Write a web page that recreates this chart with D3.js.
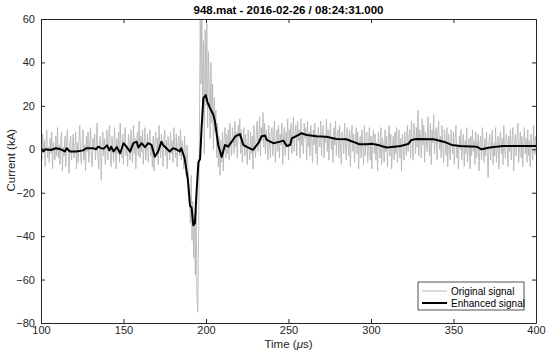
<!DOCTYPE html>
<html>
<head>
<meta charset="utf-8">
<script src="https://cdn.jsdelivr.net/npm/d3@7"></script>
<style>
  body { margin: 0; background: #fff; }
  text { font-family: 'Liberation Sans', Arial, sans-serif; }
</style>
</head>
<body>
<div id="chart"></div>
<script>
'use strict';

// Original signal, one sample every 0.5 us from 100 to 400 us (kA), 10 samples per row
var originalStart = 100
var originalStep = 0.5
var originalValues = [
  2, -5, 7, -1, 4, -8, 3, 9, -4, 1,
  -6, 5, -2, 8, -9, 3, 0, -5, 6, -3,
  10, -4, 2, -7, 5, 8, -10, 1, -3, 6,
  -8, 4, 9, -2, -11, 3, 6, -5, 1, 7,
  -4, 0, 8, -9, 3, -6, 5, 11, -3, -7,
  4, 9, -5, 2, -10, 6, -1, 8, -6, 3,
  10, -3, -8, 5, 1, 7, -5, 2, 12, -4,
  -9, 3, 6, -14, 1, 8, -3, 5, -7, 2,
  9, -5, 4, 11, -2, -8, 6, 1, -6, 10,
  3, -9, 5, -2, 8, -6, 12, 0, -4, 7,
  -7, 5, 10, -3, 2, -8, 7, 4, -5, 9,
  1, -6, 11, -2, 5, -9, 4, 8, -3, 13,
  -4, 6, -1, 9, -7, 3, 10, -5, 2, 7,
  -6, 4, 9, -3, 1, -8, 6, -10, 3, 8,
  -2, 5, -7, 11, 2, -4, 7, 0, -8, 5,
  9, -3, 4, -9, 6, 1, -5, 8, -2, 4,
  -6, 10, 2, -4, 7, -8, 3, 6, -3, 9,
  -5, 4, 1, -9, 6, -3, -12, 2, -7, -16,
  -20, -34, -12, -42, -24, -50, -30, -58, -22, -68,
  -75, -40, 5, 62, 30, 68, 12, 50, -2, 55,
  20, 58, 10, 45, 28, 5, 40, 12, 30, 0,
  24, 8, 18, -4, 12, -8, 6, -12, 4, -6,
  8, -10, 5, 10, -4, 7, -2, 9, -5, 12,
  3, -3, 10, 6, -2, 13, 1, 8, -4, 11,
  5, 14, -2, 9, -6, 4, 10, -3, 7, 0,
  -7, 9, 3, -5, 8, -2, 6, -9, 11, 2,
  -4, 8, 13, -1, 6, 15, -3, 10, 4, 17,
  1, 12, -2, 9, 5, -5, 11, 3, -4, 8,
  10, -3, 6, 13, -6, 4, 9, -1, 11, -4,
  7, 2, 12, -7, 5, 10, -3, 8, 1, 14,
  -5, 9, 3, 12, -2, 6, 15, -1, 8, 11,
  -3, 13, 4, 9, -4, 14, 2, 7, -2, 12,
  5, 10, -5, 13, 1, 8, -3, 11, 6, -6,
  9, 2, 12, -2, 7, -7, 10, 4, 1, 13,
  -3, 8, 11, -4, 6, 3, 14, -1, 9, -5,
  7, 12, 0, 5, -6, 10, 2, 13, -3, 6,
  9, -4, 11, 1, -7, 8, 4, -2, 12, 3,
  -5, 10, 6, -3, 9, -8, 5, 11, -1, 7,
  -6, 4, 10, -2, 8, -9, 3, 6, -4, 9,
  1, -7, 11, -3, 5, 8, -6, 2, 10, -5,
  6, -9, 4, 9, -2, 7, -5, 3, -10, 8,
  0, -4, 10, -7, 5, 2, -6, 9, -1, 6,
  -8, 4, 11, -3, 7, -9, 2, 6, -5, 8,
  -2, 10, -6, 3, 9, -4, 5, -10, 7, 1,
  -5, 8, 2, -3, 11, -1, 6, 9, -4, 13,
  3, -5, 12, 7, -2, 10, 1, 18, -3, 9,
  6, -4, 14, 2, 11, -6, 8, 4, -1, 15,
  5, -3, 12, -7, 9, 3, 16, -2, 7, 10,
  -5, 8, 13, 0, 6, -4, 11, 2, -6, 9,
  4, -3, 10, -8, 7, 1, -5, 9, 3, -2,
  8, -7, 5, 11, -4, 2, -9, 6, 0, 9,
  -5, 3, 7, -8, 4, -2, 10, -6, 2, 5,
  -9, 6, -3, 9, -1, 4, -7, 8, -4, 2,
  7, -10, 3, 6, -5, 10, 0, -6, 5, -3,
  8, -2, -13, 4, 7, -5, 2, 9, -7, 3,
  -3, 10, -6, 1, 6, -9, 4, 8, -2, 5,
  -7, 11, 0, -4, 7, 3, -8, 6, -1, 9,
  -5, 4, 10, -10, 2, 7, -3, 5, 12, -6,
  1, 8, -4, 6, -8, 3, 10, -2, 5, -6,
  9, -3, 4, -8, 7, 0, -5, 11, -2, 6,
  -3
]

// Enhanced signal (time in us, current in kA)
var enhancedTime = [
  100, 101.5, 102.5, 106, 109, 112, 114.5, 115.5, 117.5, 121.5,
  125.5, 127.5, 131.5, 133.5, 134.5, 136.5, 138, 140, 141.5, 142.5,
  144, 146, 148, 150, 152, 154, 156, 158, 159, 161,
  163, 165, 167, 169, 171, 173, 174, 176, 178, 180,
  182, 184, 185, 187, 189, 190.3, 191.3, 192.3, 193.3, 194.4,
  195.4, 196.4, 197.4, 198.4, 199.8, 200.8, 202.4, 204.4, 205.4, 207.4,
  209.5, 211.5, 213.5, 215.6, 217.6, 219.6, 220.6, 222.6, 225, 228.5,
  231.7, 233.7, 235.8, 236.8, 240.8, 243.8, 246.9, 248.9, 251, 252,
  257, 258, 261, 267, 273, 279, 285, 289, 293, 297,
  301, 305.5, 309.5, 315.5, 318, 322.5, 324.5, 327.5, 338, 344,
  349, 354, 364, 367, 372, 380, 392, 400
]
var enhancedValue = [
  0.5, -1, 0, -0.3, 0.5, 0, -1, 0.5, -1, -1,
  -0.5, 0.5, 0.5, 0, 1.2, 0.5, 0.3, 1.8, -0.5, 1.2,
  -1, 1, -1.8, 2.8, 1, -1.1, 2.8, 3.5, 0.8, 2.8,
  1, 2.8, 2, -3.4, -1, 3.5, 2, 0.5, -1, 0.5,
  0, -1, 0.5, -4, -14, -26, -27, -35, -34, -18,
  -6, -4.5, 11, 23.5, 25, 22, 19, 16, 13, 2,
  -3.5, 2, 1.2, 3.5, 5.8, 6.6, 7, 2, 1, -0.3,
  2.8, 6, 6.3, 4.3, 2.8, 3.3, 4, 1.5, 2, 5,
  7, 7.4, 6.6, 6, 5.8, 4.7, 4.6, 3.5, 2.3, 2.3,
  2.5, 1.7, 0.8, 1.3, 1.5, 2.4, 4.3, 4.7, 4.6, 3.5,
  2, 1.5, 1.2, 0, 0.8, 1.5, 1.5, 1.5
]

// Axis ticks
var xTicks = [100, 150, 200, 250, 300, 350, 400]
var yTicks = [-80, -60, -40, -20, 0, 20, 40, 60]

var settings = {}
settings.axis_color = '#262626'
settings.original_color = '#b8b8b8'
settings.enhanced_color = '#000'
settings.tick_size = 4
settings.font_size = '11px'

var totalWidth = 550,
    totalHeight = 360
var margin = {top: 19, right: 14, bottom: 37, left: 41},
    width = totalWidth - margin.left - margin.right,
    height = totalHeight - margin.top - margin.bottom

var x = d3.scaleLinear().domain([100, 400]).range([0, width])
var y = d3.scaleLinear().domain([-80, 60]).range([height, 0])

var svg = d3.select('#chart').append('svg')
    .attr('width', totalWidth)
    .attr('height', totalHeight)

var g = svg.append('g')
    .attr('transform', 'translate(' + margin.left + ',' + margin.top + ')')

g.append('clipPath').attr('id', 'plot-clip')
  .append('rect')
    .attr('width', width)
    .attr('height', height)

var original = originalValues.map(function(v, i) { return [originalStart + i * originalStep, v] })
var enhanced = enhancedTime.map(function(t, i) { return [t, enhancedValue[i]] })

var line = d3.line()
    .x(function(d) { return x(d[0]) })
    .y(function(d) { return y(d[1]) })

var plot = g.append('g').attr('clip-path', 'url(#plot-clip)')

plot.append('path')
    .datum(original)
    .attr('d', line)
    .attr('fill', 'none')
    .attr('stroke', settings.original_color)
    .attr('stroke-width', 0.9)

plot.append('path')
    .datum(enhanced)
    .attr('d', line)
    .attr('fill', 'none')
    .attr('stroke', settings.enhanced_color)
    .attr('stroke-width', 2)
    .attr('stroke-linejoin', 'round')

// Axes, ticks pointing inward on all four sides (box)
function styleAxis(sel, showLabels) {
  sel.select('.domain').attr('stroke', settings.axis_color)
  sel.selectAll('.tick line').attr('stroke', settings.axis_color)
  sel.selectAll('.tick text')
      .attr('fill', settings.axis_color)
      .attr('font-size', settings.font_size)
      .style('display', showLabels ? null : 'none')
}

g.append('g')
    .attr('transform', 'translate(0,' + height + ')')
    .call(d3.axisBottom(x).tickValues(xTicks).tickSizeInner(-settings.tick_size).tickSizeOuter(0).tickPadding(3))
    .call(styleAxis, true)

g.append('g')
    .call(d3.axisTop(x).tickValues(xTicks).tickSizeInner(-settings.tick_size).tickSizeOuter(0))
    .call(styleAxis, false)

g.append('g')
    .call(d3.axisLeft(y).tickValues(yTicks).tickSizeInner(-settings.tick_size).tickSizeOuter(0).tickPadding(6))
    .call(styleAxis, true)

g.append('g')
    .attr('transform', 'translate(' + width + ',0)')
    .call(d3.axisRight(y).tickValues(yTicks).tickSizeInner(-settings.tick_size).tickSizeOuter(0))
    .call(styleAxis, false)

// Title and axis labels
svg.append('text')
    .attr('x', margin.left + width / 2)
    .attr('y', 14)
    .attr('text-anchor', 'middle')
    .attr('font-size', '11.5px')
    .attr('font-weight', 'bold')
    .attr('fill', '#000')
    .text('948.mat - 2016-02-26 / 08:24:31.000')

var xLabel = svg.append('text')
    .attr('x', margin.left + width / 2)
    .attr('y', 348)
    .attr('text-anchor', 'middle')
    .attr('font-size', '11.5px')
    .attr('fill', settings.axis_color)
xLabel.append('tspan').text('Time (')
xLabel.append('tspan').attr('font-style', 'italic').text('\u03bc')
xLabel.append('tspan').text('s)')

svg.append('text')
    .attr('transform', 'translate(15,' + (margin.top + y(-5)) + ') rotate(-90)')
    .attr('text-anchor', 'middle')
    .attr('font-size', '11.5px')
    .attr('fill', settings.axis_color)
    .text('Current (kA)')

// Legend
var legend = svg.append('g').attr('transform', 'translate(418,282)')
legend.append('rect')
    .attr('width', 106)
    .attr('height', 28)
    .attr('fill', '#fff')
    .attr('stroke', settings.axis_color)
    .attr('stroke-width', 0.8)

var legendItems = [
  {label: 'Original signal', color: settings.original_color, w: 1},
  {label: 'Enhanced signal', color: settings.enhanced_color, w: 2}
]
legendItems.forEach(function(d, i) {
  var row = legend.append('g').attr('transform', 'translate(0,' + (9 + i * 12) + ')')
  row.append('line')
      .attr('x1', 4).attr('x2', 29)
      .attr('stroke', d.color)
      .attr('stroke-width', d.w)
  row.append('text')
      .attr('x', 33)
      .attr('y', 3.5)
      .attr('font-size', '10px')
      .attr('fill', '#000')
      .text(d.label)
})
</script>
</body>
</html>
